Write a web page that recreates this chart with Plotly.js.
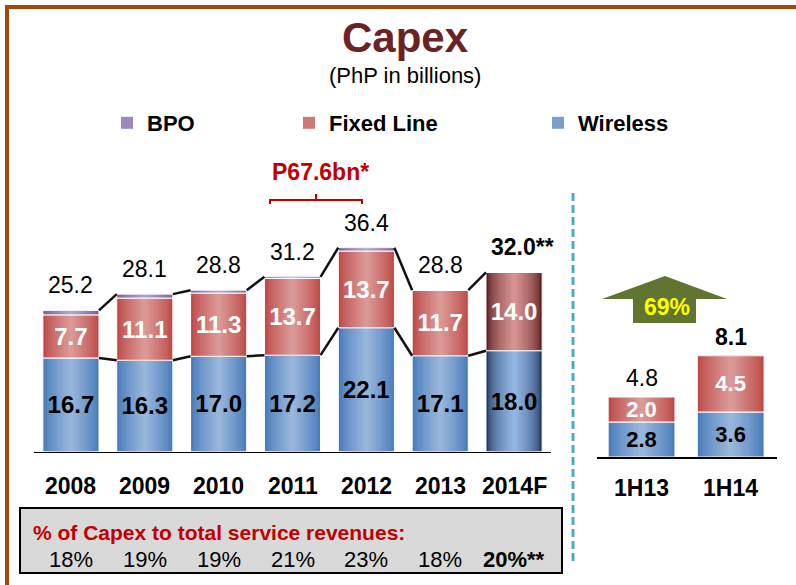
<!DOCTYPE html>
<html>
<head>
<meta charset="utf-8">
<script src="https://cdn.plot.ly/plotly-3.0.1.min.js"></script>
<style>
  html, body { margin: 0; padding: 0; background: #ffffff; }
  #chart { width: 796px; height: 585px; }
</style>
</head>
<body>
<div id="chart"></div>
<script>
// ---------------- DATA ----------------
const categories   = ['2008', '2009', '2010', '2011', '2012', '2013', '2014F'];
const wireless     = [16.7, 16.3, 17.0, 17.2, 22.1, 17.1, 18.0];
const fixedLine    = [7.7, 11.1, 11.3, 13.7, 13.7, 11.7, 14.0];
const bpo          = [0.8, 0.7, 0.5, 0.3, 0.6, 0.0, 0.0];
const totals       = [25.2, 28.1, 28.8, 31.2, 36.4, 28.8, 32.0];
const pctRevenue   = [18, 19, 19, 21, 23, 18, 20];

const halfCategories = ['1H13', '1H14'];
const halfWireless   = [2.8, 3.6];
const halfFixed      = [2.0, 4.5];
const halfTotals     = [4.8, 8.1];

// ---------------- HELPERS ----------------
const W = 796, H = 585;
const px = x => x / W;
const py = y => 1 - y / H;
const FONT = 'Liberation Sans, Arial, sans-serif';
const BW = 0.76;   // annual bar width (axis units)
const HBW = 0.75;  // half-year bar width
const NSTEP = 12;  // gradient strips per bar
const idx = categories.map((_, i) => i);
const hidx = halfCategories.map((_, i) => i);
const forecast = categories.map(c => c.endsWith('F'));

// gradient palettes [edge, centre, easing exponent]
const PAL = {
  blue:   [[74, 124, 186], [152, 182, 219], 0.85],
  blueF:  [[30, 56, 94],   [146, 182, 226], 0.55],
  red:    [[190, 75, 72],  [218, 152, 150], 0.85],
  redF:   [[92, 30, 30],   [214, 146, 144], 0.6],
  purple: [[122, 96, 158], [180, 164, 204], 0.85]
};
function mix(p, t) {
  const a = p[0], b = p[1], e = Math.pow(t, p[2]);
  const c = a.map((v, i) => Math.round(v + (b[i] - v) * e));
  return 'rgb(' + c.join(',') + ')';
}
function pathPx(cmds) {
  return cmds.map(c => c[0] + ' ' + (c.length > 1 ? px(c[1]) + ',' + py(c[2]) : '')).join(' ');
}

// ---------------- TRACES ----------------
const data = [];
function addSeries(opt) {
  const { name, x, y, base, width, palettes, xaxis, yaxis, legend, textColor, textSize, showText } = opt;
  for (let k = 0; k < NSTEP; k++) {
    const t = k / (NSTEP - 1);
    const isLegend = legend && k === Math.floor(NSTEP / 2);
    data.push({
      type: 'bar', name: name, x: x, y: y, base: base, width: width * (1 - k / NSTEP),
      xaxis: xaxis, yaxis: yaxis,
      marker: { color: palettes.map(p => mix(p, t)), line: { width: 0 } },
      showlegend: !!isLegend, legend: legend || 'legend',
      hoverinfo: 'skip', textposition: 'none'
    });
  }
  data.push({
    type: 'bar', name: name, x: x, y: y, base: base, width: width, xaxis: xaxis, yaxis: yaxis,
    marker: { color: 'rgba(0,0,0,0)', line: { color: '#ffffff', width: 1 } },
    text: showText ? y.map(v => v.toFixed(1)) : null,
    textposition: showText ? 'inside' : 'none', insidetextanchor: 'middle', textangle: 0, constraintext: 'none',
    textfont: { family: FONT, size: textSize, color: textColor, weight: 'bold' },
    showlegend: false, hoverinfo: 'skip'
  });
}

const fixedBase = wireless.slice();
const bpoBase = idx.map(i => wireless[i] + fixedLine[i]);
addSeries({ name: 'Wireless', x: idx, y: wireless, base: idx.map(() => 0), width: BW,
  palettes: forecast.map(f => f ? PAL.blueF : PAL.blue), xaxis: 'x', yaxis: 'y', legend: 'legend3',
  textColor: '#000000', textSize: 24, showText: true });
addSeries({ name: 'Fixed Line', x: idx, y: fixedLine, base: fixedBase, width: BW,
  palettes: forecast.map(f => f ? PAL.redF : PAL.red), xaxis: 'x', yaxis: 'y', legend: 'legend2',
  textColor: '#ffffff', textSize: 24, showText: true });
addSeries({ name: 'BPO', x: idx, y: bpo, base: bpoBase, width: BW,
  palettes: idx.map(() => PAL.purple), xaxis: 'x', yaxis: 'y', legend: 'legend',
  textColor: '#ffffff', textSize: 10, showText: false });
addSeries({ name: 'Wireless', x: hidx, y: halfWireless, base: hidx.map(() => 0), width: HBW,
  palettes: hidx.map(() => PAL.blue), xaxis: 'x2', yaxis: 'y2', legend: null,
  textColor: '#000000', textSize: 22, showText: true });
addSeries({ name: 'Fixed Line', x: hidx, y: halfFixed, base: halfWireless.slice(), width: HBW,
  palettes: hidx.map(() => PAL.red), xaxis: 'x2', yaxis: 'y2', legend: null,
  textColor: '#ffffff', textSize: 22, showText: true });

// connector lines between annual bars (tops and wireless level)
const tops = idx.map(i => wireless[i] + fixedLine[i] + bpo[i]);
const cx = [], cyTop = [], cyW = [];
for (let i = 0; i < idx.length - 1; i++) {
  cx.push(i + BW / 2, i + 1 - BW / 2, null);
  cyTop.push(tops[i], tops[i + 1], null);
  cyW.push(wireless[i], wireless[i + 1], null);
}
data.push({ type: 'scatter', mode: 'lines', x: cx, y: cyTop, line: { color: '#111111', width: 2.5 }, showlegend: false, hoverinfo: 'skip' });
data.push({ type: 'scatter', mode: 'lines', x: cx, y: cyW, line: { color: '#111111', width: 2.5 }, showlegend: false, hoverinfo: 'skip' });

// ---------------- ANNOTATIONS ----------------
const ann = [];
ann.push({ xref: 'paper', yref: 'paper', x: px(405), y: py(76), text: '(PhP in billions)', showarrow: false,
  xanchor: 'center', yanchor: 'middle', font: { family: FONT, size: 22, color: '#000' } });
idx.forEach(i => {
  ann.push({ xref: 'x', yref: 'y', x: i, y: totals[i], yshift: 25, xshift: forecast[i] ? 8 : 0,
    text: forecast[i] ? '<b>' + totals[i].toFixed(1) + '**</b>' : totals[i].toFixed(1),
    showarrow: false, xanchor: 'center', yanchor: 'middle', font: { family: FONT, size: 23, color: '#000' } });
});
hidx.forEach(i => {
  ann.push({ xref: 'x2', yref: 'y2', x: i, y: halfTotals[i], yshift: 19,
    text: i === hidx.length - 1 ? '<b>' + halfTotals[i].toFixed(1) + '</b>' : halfTotals[i].toFixed(1),
    showarrow: false, xanchor: 'center', yanchor: 'middle', font: { family: FONT, size: 23, color: '#000' } });
});
idx.forEach(i => {
  ann.push({ xref: 'x', yref: 'paper', x: i, y: py(486), text: '<b>' + categories[i] + '</b>',
    showarrow: false, xanchor: 'center', yanchor: 'middle', font: { family: FONT, size: 23, color: '#000' } });
});
hidx.forEach(i => {
  ann.push({ xref: 'x2', yref: 'paper', x: i, y: py(488), text: '<b>' + halfCategories[i] + '</b>',
    showarrow: false, xanchor: 'center', yanchor: 'middle', font: { family: FONT, size: 23, color: '#000' } });
});
const sum2011_2012 = totals[3] + totals[4];
ann.push({ xref: 'paper', yref: 'paper', x: px(320), y: py(172), text: '<b>P' + sum2011_2012.toFixed(1) + 'bn*</b>',
  showarrow: false, xanchor: 'center', yanchor: 'middle', font: { family: FONT, size: 23, color: '#C00000' } });
const growth = Math.round((halfTotals[1] / halfTotals[0] - 1) * 100);
ann.push({ xref: 'paper', yref: 'paper', x: px(667), y: py(307), text: '<b>' + growth + '%</b>',
  showarrow: false, xanchor: 'center', yanchor: 'middle', font: { family: FONT, size: 23, color: '#FFFF00' } });
ann.push({ xref: 'paper', yref: 'paper', x: px(31), y: py(532), text: '<b>% of Capex to total service revenues:</b>',
  showarrow: false, xanchor: 'left', yanchor: 'middle', font: { family: FONT, size: 21, color: '#C00000' } });
idx.forEach(i => {
  ann.push({ xref: 'x', yref: 'paper', x: i, y: py(559),
    text: forecast[i] ? '<b>' + pctRevenue[i] + '%**</b>' : pctRevenue[i] + '%',
    showarrow: false, xanchor: 'center', yanchor: 'middle', font: { family: FONT, size: 22, color: '#000' } });
});

// ---------------- SHAPES ----------------
const shapes = [
  { type: 'line', xref: 'paper', yref: 'paper', x0: px(7), y0: py(7), x1: px(800), y1: py(7), line: { color: '#9E4A0B', width: 4 } },
  { type: 'line', xref: 'paper', yref: 'paper', x0: px(7), y0: py(5), x1: px(7), y1: py(590), line: { color: '#9E4A0B', width: 4 } },
  { type: 'line', xref: 'paper', yref: 'paper', x0: px(573), y0: py(193), x1: px(573), y1: py(562), line: { color: '#4BACC6', width: 3, dash: '8px,4px' } },
  { type: 'path', xref: 'paper', yref: 'paper', path: pathPx([['M', 270, 204], ['L', 270, 200], ['L', 362, 200], ['L', 362, 204], ['M', 316, 200], ['L', 316, 194]]),
    line: { color: '#C00000', width: 2 } },
  { type: 'path', xref: 'paper', yref: 'paper', path: pathPx([['M', 602, 299], ['L', 665, 276], ['L', 727, 299], ['L', 696, 299], ['L', 696, 323], ['L', 633, 323], ['L', 633, 299], ['Z']]),
    fillcolor: '#5F7530', line: { width: 0 } },
  { type: 'rect', xref: 'paper', yref: 'paper', x0: px(20), x1: px(562), y0: py(573), y1: py(508),
    fillcolor: '#D9D9D9', line: { color: '#000000', width: 2 }, layer: 'below' }
];

// ---------------- LAYOUT ----------------
const legendBase = {
  orientation: 'h', yanchor: 'middle', xanchor: 'left', y: py(123),
  font: { family: FONT, size: 22, color: '#000', weight: 'bold' },
  bgcolor: 'rgba(0,0,0,0)', borderwidth: 0, itemclick: false, itemdoubleclick: false
};
const layout = {
  width: W, height: H,
  margin: { l: 0, r: 0, t: 0, b: 0, pad: 0 },
  paper_bgcolor: '#ffffff', plot_bgcolor: 'rgba(0,0,0,0)',
  barmode: 'overlay',
  showlegend: true,
  title: { text: '<b>Capex</b>', font: { family: FONT, size: 42, color: '#6B2222' },
    x: px(405), xanchor: 'center', y: py(37), yanchor: 'middle', xref: 'paper', yref: 'paper' },
  legend: Object.assign({}, legendBase, { x: px(107) }),
  legend2: Object.assign({}, legendBase, { x: px(289) }),
  legend3: Object.assign({}, legendBase, { x: px(538) }),
  xaxis: { domain: [px(34), px(551)], range: [-0.5, 6.5], showticklabels: false, showgrid: false, zeroline: false,
    showline: true, linecolor: '#000', linewidth: 1.5, ticks: '', fixedrange: true },
  yaxis: { domain: [py(451.5), py(140)], range: [0, (451.5 - 140) / 5.6], visible: false, fixedrange: true },
  xaxis2: { domain: [px(597), px(777)], range: [-0.5, 1.52], anchor: 'y2', showticklabels: false, showgrid: false, zeroline: false,
    showline: true, linecolor: '#000', linewidth: 1.5, ticks: '', fixedrange: true },
  yaxis2: { domain: [py(457), py(140)], range: [0, (457 - 140) / 12.5], anchor: 'x2', visible: false, fixedrange: true },
  annotations: ann,
  shapes: shapes
};

Plotly.newPlot('chart', data, layout, { displayModeBar: false, staticPlot: true });
</script>
</body>
</html>
